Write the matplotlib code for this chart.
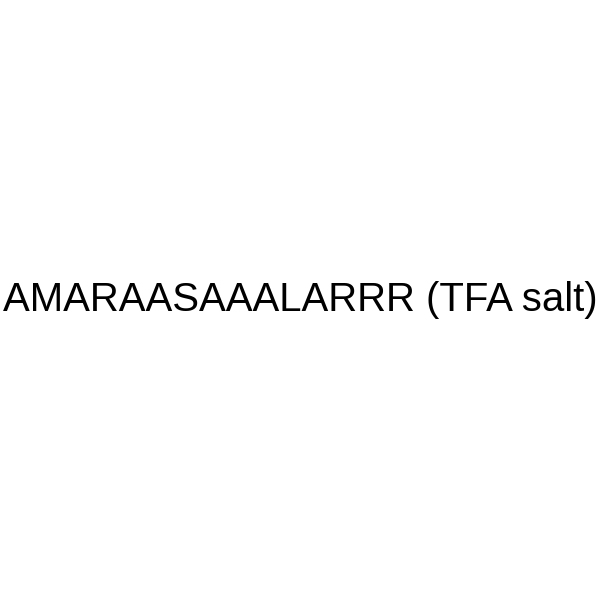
import matplotlib
matplotlib.use("Agg")
import matplotlib.pyplot as plt

name = "AMARAASAAALARRR (TFA salt)"

fig = plt.figure(figsize=(6, 6), dpi=100)
fig.patch.set_facecolor("white")
fig.text(0.5, 0.5, name, ha="center", va="center",
         fontsize=28.9, family=["Liberation Sans", "DejaVu Sans"], color="black")
fig.savefig("out.png", dpi=100, facecolor="white")
